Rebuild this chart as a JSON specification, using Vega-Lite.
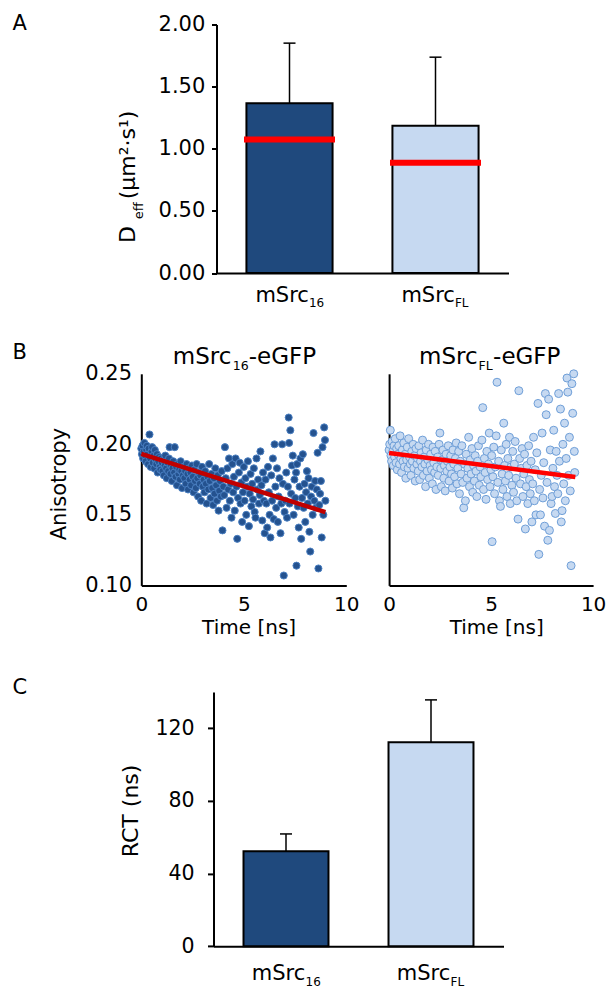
{
"$schema": "https://vega.github.io/schema/vega-lite/v6.json",
"background": "white",
"padding": {"left": 12.5, "top": 12.5, "right": 5, "bottom": 5},
"config": {
  "view": {"stroke": null},
  "font": "DejaVu Sans",
  "axis": {"labelFont": "DejaVu Sans", "titleFont": "DejaVu Sans", "labelColor": "black", "titleColor": "black", "domainColor": "black", "tickColor": "black", "domainWidth": 2, "tickWidth": 2, "grid": false, "titleFontWeight": "normal", "labelFlush": false, "labelOverlap": false},
  "text": {"font": "DejaVu Sans", "color": "black"},
  "title": {"font": "DejaVu Sans", "fontWeight": "normal", "color": "black"}
},
"datasets": {
  "bars_a": [
    {"construct": "mSrc16", "main": "mSrc", "sub": "16", "mean": 1.367, "upper": 1.85, "median": 1.074},
    {"construct": "mSrcFL", "main": "mSrc", "sub": "FL", "mean": 1.185, "upper": 1.737, "median": 0.887}
  ],
  "bars_c": [
    {"construct": "mSrc16", "main": "mSrc", "sub": "16", "mean": 52.3, "upper": 61.8},
    {"construct": "mSrcFL", "main": "mSrc", "sub": "FL", "mean": 112.3, "upper": 135.6}
  ],
  "title_left": [{"main": "mSrc", "sub": "16", "rest": "-eGFP"}],
  "title_right": [{"main": "mSrc", "sub": "FL", "rest": "-eGFP"}],
  "fit_left": [{"t": 0, "a": 0.1933}, {"t": 4.5, "a": 0.1725}, {"t": 8.98, "a": 0.152}],
  "fit_right": [{"t": 0, "a": 0.1938}, {"t": 4.5, "a": 0.1855}, {"t": 9.13, "a": 0.1768}],
  "left": [
{"t":0.00,"a":0.197},{"t":0.03,"a":0.193},{"t":0.06,"a":0.199},{"t":0.09,"a":0.190},{"t":0.12,"a":0.195},{"t":0.15,"a":0.201},{"t":0.18,"a":0.192},{"t":0.21,"a":0.188},{"t":0.24,"a":0.196},{"t":0.27,"a":0.199},{"t":0.30,"a":0.193},{"t":0.33,"a":0.186},{"t":0.36,"a":0.197},{"t":0.40,"a":0.207},{"t":0.43,"a":0.190},{"t":0.46,"a":0.184},{"t":0.50,"a":0.195},{"t":0.53,"a":0.198},{"t":0.56,"a":0.187},{"t":0.60,"a":0.192},{"t":0.63,"a":0.183},{"t":0.66,"a":0.196},{"t":0.70,"a":0.189},{"t":0.73,"a":0.186},{"t":0.76,"a":0.193},{"t":0.80,"a":0.180},{"t":0.83,"a":0.188},{"t":0.86,"a":0.191},{"t":0.90,"a":0.184},{"t":0.93,"a":0.182},{"t":0.96,"a":0.190},{"t":1.00,"a":0.187},
{"t":1.03,"a":0.181},{"t":1.07,"a":0.189},{"t":1.10,"a":0.178},{"t":1.14,"a":0.185},{"t":1.17,"a":0.192},{"t":1.21,"a":0.183},{"t":1.24,"a":0.176},{"t":1.28,"a":0.187},{"t":1.31,"a":0.181},{"t":1.35,"a":0.190},{"t":1.38,"a":0.198},{"t":1.42,"a":0.179},{"t":1.45,"a":0.185},{"t":1.49,"a":0.174},{"t":1.52,"a":0.183},{"t":1.56,"a":0.188},{"t":1.60,"a":0.180},{"t":1.63,"a":0.198},{"t":1.67,"a":0.177},{"t":1.70,"a":0.184},{"t":1.74,"a":0.171},{"t":1.77,"a":0.186},{"t":1.81,"a":0.179},{"t":1.85,"a":0.182},{"t":1.88,"a":0.175},{"t":1.92,"a":0.188},{"t":1.95,"a":0.181},{"t":1.99,"a":0.169},{"t":2.03,"a":0.178},{"t":2.06,"a":0.184},{"t":2.10,"a":0.176},{"t":2.14,"a":0.181},{"t":2.17,"a":0.172},{"t":2.21,"a":0.186},{"t":2.25,"a":0.179},{"t":2.28,"a":0.168},{"t":2.32,"a":0.183},{"t":2.36,"a":0.175},{"t":2.40,"a":0.180},{"t":2.43,"a":0.171},{"t":2.47,"a":0.185},
{"t":2.51,"a":0.177},{"t":2.55,"a":0.166},{"t":2.58,"a":0.182},{"t":2.62,"a":0.174},{"t":2.66,"a":0.169},{"t":2.70,"a":0.186},{"t":2.73,"a":0.176},{"t":2.77,"a":0.163},{"t":2.81,"a":0.180},{"t":2.85,"a":0.172},{"t":2.88,"a":0.178},{"t":2.92,"a":0.160},{"t":2.96,"a":0.184},{"t":3.00,"a":0.170},{"t":3.04,"a":0.175},{"t":3.08,"a":0.166},{"t":3.11,"a":0.181},{"t":3.15,"a":0.172},{"t":3.19,"a":0.158},{"t":3.23,"a":0.177},{"t":3.27,"a":0.168},{"t":3.31,"a":0.186},{"t":3.34,"a":0.174},{"t":3.38,"a":0.162},{"t":3.42,"a":0.179},{"t":3.46,"a":0.169},{"t":3.50,"a":0.157},{"t":3.54,"a":0.176},{"t":3.57,"a":0.165},{"t":3.61,"a":0.183},{"t":3.65,"a":0.171},{"t":3.69,"a":0.160},{"t":3.73,"a":0.178},{"t":3.77,"a":0.153},{"t":3.80,"a":0.167},{"t":3.84,"a":0.174},{"t":3.88,"a":0.163},{"t":3.92,"a":0.181},{"t":3.96,"a":0.139},{"t":4.00,"a":0.170},
{"t":4.04,"a":0.164},{"t":4.08,"a":0.198},{"t":4.12,"a":0.176},{"t":4.16,"a":0.155},{"t":4.20,"a":0.183},{"t":4.24,"a":0.168},{"t":4.28,"a":0.190},{"t":4.32,"a":0.160},{"t":4.36,"a":0.172},{"t":4.40,"a":0.148},{"t":4.44,"a":0.186},{"t":4.48,"a":0.166},{"t":4.52,"a":0.177},{"t":4.56,"a":0.153},{"t":4.60,"a":0.190},{"t":4.64,"a":0.170},{"t":4.68,"a":0.133},{"t":4.72,"a":0.162},{"t":4.76,"a":0.180},{"t":4.80,"a":0.187},{"t":4.84,"a":0.158},{"t":4.88,"a":0.173},{"t":4.92,"a":0.145},{"t":4.96,"a":0.166},{"t":5.00,"a":0.184},{"t":5.04,"a":0.160},{"t":5.08,"a":0.176},{"t":5.12,"a":0.150},{"t":5.16,"a":0.170},{"t":5.20,"a":0.188},{"t":5.25,"a":0.142},{"t":5.29,"a":0.165},{"t":5.33,"a":0.179},{"t":5.37,"a":0.156},{"t":5.41,"a":0.172},{"t":5.45,"a":0.161},{"t":5.49,"a":0.183},{"t":5.53,"a":0.152},{"t":5.57,"a":0.148},{"t":5.62,"a":0.190},{"t":5.66,"a":0.168},{"t":5.70,"a":0.175},{"t":5.74,"a":0.158},{"t":5.78,"a":0.164},{"t":5.81,"a":0.195},{"t":5.86,"a":0.171},{"t":5.90,"a":0.146},{"t":5.94,"a":0.180},{"t":5.98,"a":0.160},
{"t":6.02,"a":0.137},{"t":6.06,"a":0.175},{"t":6.10,"a":0.158},{"t":6.14,"a":0.141},{"t":6.18,"a":0.184},{"t":6.22,"a":0.166},{"t":6.26,"a":0.150},{"t":6.30,"a":0.134},{"t":6.34,"a":0.178},{"t":6.38,"a":0.160},{"t":6.42,"a":0.190},{"t":6.46,"a":0.147},{"t":6.50,"a":0.200},{"t":6.54,"a":0.170},{"t":6.58,"a":0.155},{"t":6.62,"a":0.183},{"t":6.66,"a":0.145},{"t":6.70,"a":0.163},{"t":6.74,"a":0.176},{"t":6.79,"a":0.137},{"t":6.83,"a":0.158},{"t":6.87,"a":0.200},{"t":6.91,"a":0.172},{"t":6.95,"a":0.107},{"t":6.99,"a":0.152},
{"t":7.03,"a":0.160},{"t":7.07,"a":0.180},{"t":7.11,"a":0.148},{"t":7.15,"a":0.170},{"t":7.19,"a":0.219},{"t":7.21,"a":0.201},{"t":7.23,"a":0.158},{"t":7.27,"a":0.210},{"t":7.31,"a":0.165},{"t":7.35,"a":0.185},{"t":7.39,"a":0.192},{"t":7.43,"a":0.150},{"t":7.47,"a":0.175},{"t":7.51,"a":0.162},{"t":7.55,"a":0.180},{"t":7.57,"a":0.114},{"t":7.60,"a":0.186},{"t":7.64,"a":0.156},{"t":7.68,"a":0.141},{"t":7.72,"a":0.170},{"t":7.76,"a":0.190},{"t":7.80,"a":0.133},{"t":7.84,"a":0.162},{"t":7.88,"a":0.193},{"t":7.92,"a":0.155},{"t":7.96,"a":0.172},{"t":8.00,"a":0.145},{"t":8.04,"a":0.166},{"t":8.08,"a":0.181},{"t":8.12,"a":0.158},{"t":8.16,"a":0.176},{"t":8.20,"a":0.138},{"t":8.24,"a":0.124},{"t":8.28,"a":0.163},{"t":8.32,"a":0.170},{"t":8.36,"a":0.150},{"t":8.40,"a":0.208},{"t":8.44,"a":0.160},{"t":8.48,"a":0.174},{"t":8.52,"a":0.155},{"t":8.56,"a":0.168},{"t":8.60,"a":0.194},{"t":8.64,"a":0.112},{"t":8.68,"a":0.157},{"t":8.72,"a":0.165},{"t":8.76,"a":0.174},{"t":8.80,"a":0.134},{"t":8.84,"a":0.198},{"t":8.88,"a":0.150},{"t":8.92,"a":0.212},{"t":8.96,"a":0.203},{"t":8.98,"a":0.160}
  ],
  "right": [
{"t":0.00,"a":0.196},{"t":0.03,"a":0.200},{"t":0.06,"a":0.210},{"t":0.09,"a":0.192},{"t":0.12,"a":0.188},{"t":0.15,"a":0.202},{"t":0.18,"a":0.195},{"t":0.21,"a":0.185},{"t":0.24,"a":0.199},{"t":0.27,"a":0.191},{"t":0.30,"a":0.204},{"t":0.34,"a":0.187},{"t":0.37,"a":0.197},{"t":0.40,"a":0.182},{"t":0.44,"a":0.193},{"t":0.47,"a":0.199},{"t":0.51,"a":0.186},{"t":0.54,"a":0.206},{"t":0.58,"a":0.190},{"t":0.61,"a":0.180},{"t":0.65,"a":0.196},{"t":0.68,"a":0.188},{"t":0.72,"a":0.201},{"t":0.75,"a":0.184},{"t":0.79,"a":0.193},{"t":0.82,"a":0.176},{"t":0.86,"a":0.189},{"t":0.89,"a":0.198},{"t":0.93,"a":0.183},{"t":0.96,"a":0.204},{"t":1.00,"a":0.191},
{"t":1.04,"a":0.186},{"t":1.07,"a":0.178},{"t":1.11,"a":0.195},{"t":1.14,"a":0.188},{"t":1.18,"a":0.200},{"t":1.21,"a":0.183},{"t":1.25,"a":0.192},{"t":1.28,"a":0.174},{"t":1.32,"a":0.197},{"t":1.36,"a":0.186},{"t":1.39,"a":0.190},{"t":1.43,"a":0.181},{"t":1.46,"a":0.199},{"t":1.50,"a":0.175},{"t":1.54,"a":0.188},{"t":1.57,"a":0.194},{"t":1.61,"a":0.184},{"t":1.64,"a":0.203},{"t":1.68,"a":0.178},{"t":1.72,"a":0.191},{"t":1.75,"a":0.186},{"t":1.79,"a":0.170},{"t":1.82,"a":0.196},{"t":1.86,"a":0.181},{"t":1.90,"a":0.189},{"t":1.93,"a":0.200},{"t":1.97,"a":0.176},{"t":2.01,"a":0.185},{"t":2.04,"a":0.193},{"t":2.08,"a":0.182},{"t":2.12,"a":0.172},{"t":2.15,"a":0.198},{"t":2.19,"a":0.187},{"t":2.23,"a":0.180},{"t":2.26,"a":0.195},{"t":2.30,"a":0.168},{"t":2.34,"a":0.184},{"t":2.38,"a":0.191},{"t":2.41,"a":0.178},{"t":2.45,"a":0.200},{"t":2.49,"a":0.208},
{"t":2.53,"a":0.183},{"t":2.56,"a":0.170},{"t":2.60,"a":0.189},{"t":2.64,"a":0.196},{"t":2.68,"a":0.176},{"t":2.71,"a":0.185},{"t":2.75,"a":0.167},{"t":2.79,"a":0.193},{"t":2.83,"a":0.181},{"t":2.86,"a":0.188},{"t":2.90,"a":0.199},{"t":2.94,"a":0.174},{"t":2.98,"a":0.184},{"t":3.02,"a":0.192},{"t":3.06,"a":0.179},{"t":3.10,"a":0.169},{"t":3.13,"a":0.196},{"t":3.17,"a":0.186},{"t":3.21,"a":0.177},{"t":3.25,"a":0.190},{"t":3.29,"a":0.201},{"t":3.33,"a":0.172},{"t":3.37,"a":0.183},{"t":3.41,"a":0.195},{"t":3.45,"a":0.165},{"t":3.49,"a":0.188},{"t":3.53,"a":0.179},{"t":3.57,"a":0.199},{"t":3.61,"a":0.173},{"t":3.66,"a":0.155},{"t":3.70,"a":0.186},{"t":3.74,"a":0.160},{"t":3.78,"a":0.193},{"t":3.82,"a":0.176},{"t":3.86,"a":0.183},{"t":3.90,"a":0.205},{"t":3.94,"a":0.170},{"t":3.98,"a":0.189},
{"t":4.02,"a":0.179},{"t":4.06,"a":0.197},{"t":4.10,"a":0.166},{"t":4.14,"a":0.185},{"t":4.18,"a":0.174},{"t":4.22,"a":0.192},{"t":4.26,"a":0.181},{"t":4.30,"a":0.163},{"t":4.34,"a":0.188},{"t":4.38,"a":0.199},{"t":4.42,"a":0.171},{"t":4.46,"a":0.184},{"t":4.50,"a":0.177},{"t":4.55,"a":0.203},{"t":4.59,"a":0.226},{"t":4.63,"a":0.168},{"t":4.67,"a":0.190},{"t":4.71,"a":0.180},{"t":4.75,"a":0.161},{"t":4.79,"a":0.195},{"t":4.83,"a":0.175},{"t":4.87,"a":0.186},{"t":4.91,"a":0.208},{"t":4.95,"a":0.170},{"t":4.99,"a":0.182},{"t":5.03,"a":0.192},{"t":5.05,"a":0.131},{"t":5.09,"a":0.177},{"t":5.13,"a":0.198},{"t":5.17,"a":0.165},{"t":5.21,"a":0.184},{"t":5.25,"a":0.206},{"t":5.29,"a":0.244},{"t":5.33,"a":0.173},{"t":5.37,"a":0.188},{"t":5.41,"a":0.160},{"t":5.46,"a":0.156},{"t":5.50,"a":0.196},{"t":5.54,"a":0.179},{"t":5.58,"a":0.168},{"t":5.62,"a":0.215},{"t":5.66,"a":0.185},{"t":5.70,"a":0.174},{"t":5.74,"a":0.200},{"t":5.78,"a":0.163},{"t":5.82,"a":0.190},{"t":5.86,"a":0.178},{"t":5.90,"a":0.205},{"t":5.94,"a":0.158},{"t":5.98,"a":0.184},
{"t":6.02,"a":0.171},{"t":6.06,"a":0.195},{"t":6.10,"a":0.166},{"t":6.14,"a":0.186},{"t":6.18,"a":0.202},{"t":6.22,"a":0.176},{"t":6.26,"a":0.160},{"t":6.32,"a":0.147},{"t":6.36,"a":0.238},{"t":6.40,"a":0.190},{"t":6.44,"a":0.172},{"t":6.48,"a":0.183},{"t":6.52,"a":0.197},{"t":6.56,"a":0.163},{"t":6.60,"a":0.179},{"t":6.64,"a":0.193},{"t":6.68,"a":0.140},{"t":6.72,"a":0.170},{"t":6.76,"a":0.185},{"t":6.80,"a":0.158},{"t":6.84,"a":0.199},{"t":6.88,"a":0.175},{"t":6.92,"a":0.165},{"t":6.96,"a":0.188},{"t":7.00,"a":0.145},
{"t":7.04,"a":0.172},{"t":7.08,"a":0.205},{"t":7.12,"a":0.160},{"t":7.16,"a":0.182},{"t":7.20,"a":0.150},{"t":7.24,"a":0.194},{"t":7.30,"a":0.229},{"t":7.34,"a":0.122},{"t":7.38,"a":0.168},{"t":7.42,"a":0.150},{"t":7.46,"a":0.178},{"t":7.50,"a":0.208},{"t":7.54,"a":0.162},{"t":7.58,"a":0.187},{"t":7.62,"a":0.142},{"t":7.66,"a":0.236},{"t":7.70,"a":0.221},{"t":7.74,"a":0.173},{"t":7.78,"a":0.132},{"t":7.82,"a":0.232},{"t":7.86,"a":0.139},{"t":7.90,"a":0.196},{"t":7.94,"a":0.158},{"t":7.99,"a":0.163},{"t":8.03,"a":0.183},{"t":8.07,"a":0.210},{"t":8.11,"a":0.170},{"t":8.15,"a":0.151},{"t":8.19,"a":0.195},{"t":8.23,"a":0.178},{"t":8.27,"a":0.165},{"t":8.31,"a":0.236},{"t":8.35,"a":0.188},{"t":8.40,"a":0.225},{"t":8.44,"a":0.145},{"t":8.48,"a":0.153},{"t":8.52,"a":0.200},{"t":8.56,"a":0.172},{"t":8.60,"a":0.215},{"t":8.64,"a":0.160},{"t":8.68,"a":0.190},{"t":8.72,"a":0.247},{"t":8.76,"a":0.237},{"t":8.80,"a":0.178},{"t":8.84,"a":0.205},{"t":8.88,"a":0.167},{"t":8.92,"a":0.114},{"t":8.96,"a":0.243},{"t":9.00,"a":0.222},{"t":9.05,"a":0.250},{"t":9.08,"a":0.195},{"t":9.10,"a":0.180}
  ]
},
"spacing": 38.4,
"vconcat": [
  {
    "spacing": 32.3,
    "vconcat": [
      {
        "spacing": 0,
        "hconcat": [
          {
            "width": 103.4, "height": 248.5,
            "title": {"text": "A", "anchor": "start", "frame": "group", "orient": "top", "offset": 0, "baseline": "alphabetic", "dy": 26, "fontSize": 21, "fontWeight": "normal"},
            "data": {"values": [{}]},
            "mark": {"type": "text"},
            "encoding": {"text": {"value": ""}}
          },
          {
            "width": 292, "height": 248.5,
            "data": {"name": "bars_a"},
            "resolve": {"axis": {"x": "independent", "y": "independent"}},
            "layer": [
              {
                "mark": {"type": "bar", "stroke": "black", "strokeWidth": 2},
                "encoding": {
                  "x": {"field": "construct", "type": "nominal", "sort": null,
                        "scale": {"domain": ["mSrc16", "mSrcFL"], "paddingInner": 0.41, "paddingOuter": 0.205},
                        "axis": {"orient": "bottom", "title": null, "ticks": false, "labels": false}},
                  "y": {"field": "mean", "type": "quantitative", "scale": {"domain": [0, 2], "nice": false},
                        "axis": {"orient": "left", "values": [0, 0.5, 1, 1.5, 2], "format": ".2f", "tickSize": 5, "labelPadding": 6.7, "labelFontSize": 21, "labelOverlap": false, "labelFlush": false,
                                 "title": "D", "titleFontSize": 22, "titleAngle": 270, "titleAlign": "left", "titleBaseline": "alphabetic", "titleX": -81.7, "titleY": 218}},
                  "fill": {"field": "construct", "type": "nominal", "scale": {"domain": ["mSrc16", "mSrcFL"], "range": ["#1f497d", "#c6d9f1"]}, "legend": null}
                }
              },
              {
                "mark": {"type": "rule", "color": "black", "strokeWidth": 1.5},
                "encoding": {
                  "x": {"field": "construct", "type": "nominal", "axis": null},
                  "y": {"field": "mean", "type": "quantitative",
                        "axis": {"orient": "left", "domain": false, "ticks": false, "labels": false, "title": "eff", "titleFontSize": 13, "titleAngle": 270, "titleAlign": "left", "titleBaseline": "alphabetic", "titleX": -74, "titleY": 194.3}},
                  "y2": {"field": "upper"}
                }
              },
              {
                "mark": {"type": "tick", "color": "black", "size": 12, "thickness": 1.5, "opacity": 1},
                "encoding": {
                  "x": {"field": "construct", "type": "nominal", "axis": null},
                  "y": {"field": "upper", "type": "quantitative",
                        "axis": {"orient": "left", "domain": false, "ticks": false, "labels": false, "title": "(µm²·s¹)", "titleFontSize": 22, "titleAngle": 270, "titleAlign": "left", "titleBaseline": "alphabetic", "titleX": -81.7, "titleY": 174.3}}
                }
              },
              {
                "mark": {"type": "tick", "color": "#ff0000", "size": 91, "thickness": 6, "opacity": 1},
                "encoding": {
                  "x": {"field": "construct", "type": "nominal", "axis": null},
                  "y": {"field": "median", "type": "quantitative", "axis": null}
                }
              },
              {
                "mark": {"type": "text", "align": "right", "baseline": "alphabetic", "dx": 19.4, "dy": 29.2, "fontSize": 21},
                "encoding": {
                  "x": {"field": "construct", "type": "nominal", "axis": null},
                  "y": {"datum": 0, "type": "quantitative", "axis": null},
                  "text": {"field": "main"}
                }
              },
              {
                "mark": {"type": "text", "align": "left", "baseline": "alphabetic", "dx": 19.4, "dy": 33.5, "fontSize": 12},
                "encoding": {
                  "x": {"field": "construct", "type": "nominal", "axis": null},
                  "y": {"datum": 0, "type": "quantitative", "axis": null},
                  "text": {"field": "sub"}
                }
              }
            ]
          }
        ]
      },
      {
        "spacing": 20.8,
        "hconcat": [
          {
            "width": 10, "height": 211.6,
            "title": {"text": "B", "anchor": "start", "frame": "group", "orient": "top", "offset": 0, "baseline": "alphabetic", "dy": 5.7, "fontSize": 21, "fontWeight": "normal"},
            "data": {"values": [{}]},
            "mark": {"type": "text"},
            "encoding": {"text": {"value": ""}}
          },
          {
            "width": 205, "height": 211.6,
            "resolve": {"axis": {"x": "independent", "y": "independent"}},
            "layer": [
              {
                "data": {"name": "left"},
                "mark": {"type": "circle", "size": 50, "fill": "#24528f", "stroke": "#4a7fc1", "strokeWidth": 1, "opacity": 1},
                "encoding": {
                  "x": {"field": "t", "type": "quantitative", "scale": {"domain": [0, 10], "nice": false, "zero": false},
                        "axis": {"orient": "bottom", "values": [0, 5, 10], "ticks": false, "labelPadding": 25, "labelBaseline": "alphabetic", "labelFontSize": 20, "labelOverlap": false, "labelFlush": false,
                                 "title": "Time [ns]", "titleFontSize": 20, "titleX": 107.3, "titleY": 48.4, "titleAlign": "center", "titleBaseline": "alphabetic"}},
                  "y": {"field": "a", "type": "quantitative", "scale": {"domain": [0.1, 0.25], "nice": false, "zero": false},
                        "axis": {"orient": "left", "values": [0.1, 0.15, 0.2, 0.25], "format": ".2f", "ticks": false, "labelPadding": 9.7, "labelFontSize": 21, "labelOverlap": false, "labelFlush": false,
                                 "title": "Anisotropy", "titleFontSize": 21, "titleAngle": 270, "titleAlign": "center", "titleBaseline": "alphabetic", "titleX": -75.7, "titleY": 109.8}}
                }
              },
              {
                "data": {"name": "fit_left"},
                "mark": {"type": "line", "color": "#c00000", "strokeWidth": 4.5},
                "encoding": {
                  "x": {"field": "t", "type": "quantitative", "axis": null},
                  "y": {"field": "a", "type": "quantitative", "axis": null}
                }
              },
              {
                "data": {"name": "title_left"},
                "mark": {"type": "text", "align": "left", "baseline": "alphabetic", "fontSize": 23, "dx": -71, "dy": -10},
                "encoding": {"x": {"datum": 5, "type": "quantitative", "axis": null}, "y": {"datum": 0.25, "type": "quantitative", "axis": null}, "text": {"field": "main"}}
              },
              {
                "data": {"name": "title_left"},
                "mark": {"type": "text", "align": "left", "baseline": "alphabetic", "fontSize": 12.5, "dx": -11, "dy": -3.4},
                "encoding": {"x": {"datum": 5, "type": "quantitative", "axis": null}, "y": {"datum": 0.25, "type": "quantitative", "axis": null}, "text": {"field": "sub"}}
              },
              {
                "data": {"name": "title_left"},
                "mark": {"type": "text", "align": "left", "baseline": "alphabetic", "fontSize": 23, "dx": 5, "dy": -10},
                "encoding": {"x": {"datum": 5, "type": "quantitative", "axis": null}, "y": {"datum": 0.25, "type": "quantitative", "axis": null}, "text": {"field": "rest"}}
              }
            ]
          },
          {
            "width": 204, "height": 211.6,
            "resolve": {"axis": {"x": "independent", "y": "independent"}},
            "layer": [
              {
                "data": {"name": "right"},
                "mark": {"type": "circle", "size": 64, "fill": "#c6d9f1", "stroke": "#6f9fd8", "strokeWidth": 1, "opacity": 1},
                "encoding": {
                  "x": {"field": "t", "type": "quantitative", "scale": {"domain": [0, 10], "nice": false, "zero": false},
                        "axis": {"orient": "bottom", "values": [0, 5, 10], "ticks": false, "labelPadding": 25, "labelBaseline": "alphabetic", "labelFontSize": 20, "labelOverlap": false, "labelFlush": false,
                                 "title": "Time [ns]", "titleFontSize": 20, "titleX": 107.1, "titleY": 48.4, "titleAlign": "center", "titleBaseline": "alphabetic"}},
                  "y": {"field": "a", "type": "quantitative", "scale": {"domain": [0.1, 0.25], "nice": false, "zero": false},
                        "axis": {"orient": "left", "values": [0.1, 0.15, 0.2, 0.25], "ticks": false, "labels": false, "title": null}}
                }
              },
              {
                "data": {"name": "fit_right"},
                "mark": {"type": "line", "color": "#ff0000", "strokeWidth": 4.5},
                "encoding": {
                  "x": {"field": "t", "type": "quantitative", "axis": null},
                  "y": {"field": "a", "type": "quantitative", "axis": null}
                }
              },
              {
                "data": {"name": "title_right"},
                "mark": {"type": "text", "align": "left", "baseline": "alphabetic", "fontSize": 23, "dx": -72, "dy": -10},
                "encoding": {"x": {"datum": 5, "type": "quantitative", "axis": null}, "y": {"datum": 0.25, "type": "quantitative", "axis": null}, "text": {"field": "main"}}
              },
              {
                "data": {"name": "title_right"},
                "mark": {"type": "text", "align": "left", "baseline": "alphabetic", "fontSize": 12.5, "dx": -12.5, "dy": -3.4},
                "encoding": {"x": {"datum": 5, "type": "quantitative", "axis": null}, "y": {"datum": 0.25, "type": "quantitative", "axis": null}, "text": {"field": "sub"}}
              },
              {
                "data": {"name": "title_right"},
                "mark": {"type": "text", "align": "left", "baseline": "alphabetic", "fontSize": 23, "dx": 2, "dy": -10},
                "encoding": {"x": {"datum": 5, "type": "quantitative", "axis": null}, "y": {"datum": 0.25, "type": "quantitative", "axis": null}, "text": {"field": "rest"}}
              }
            ]
          }
        ]
      }
    ]
  },
  {
    "spacing": 0,
    "hconcat": [
      {
        "width": 106.8, "height": 254.3,
        "title": {"text": "C", "anchor": "start", "frame": "group", "orient": "top", "offset": 0, "baseline": "alphabetic", "dy": 23.3, "fontSize": 21, "fontWeight": "normal"},
        "data": {"values": [{}]},
        "mark": {"type": "text"},
        "encoding": {"text": {"value": ""}}
      },
      {
        "width": 290, "height": 254.3,
        "data": {"name": "bars_c"},
        "layer": [
          {
            "mark": {"type": "bar", "stroke": "black", "strokeWidth": 2},
            "encoding": {
              "x": {"field": "construct", "type": "nominal", "sort": null,
                    "scale": {"domain": ["mSrc16", "mSrcFL"], "paddingInner": 0.414, "paddingOuter": 0.207},
                    "axis": {"orient": "bottom", "title": null, "ticks": false, "labels": false}},
              "y": {"field": "mean", "type": "quantitative", "scale": {"domain": [0, 140], "nice": false},
                    "axis": {"orient": "left", "values": [0, 20, 40, 60, 80, 100, 120, 140], "format": "d", "tickSize": 6, "labelPadding": 13.4, "labelFontSize": 20.5, "labelOverlap": false, "labelFlush": false,
                             "title": "RCT (ns)", "titleFontSize": 22, "titleAngle": 270, "titleAlign": "center", "titleBaseline": "alphabetic", "titleX": -76, "titleY": 118.5}},
              "fill": {"field": "construct", "type": "nominal", "scale": {"domain": ["mSrc16", "mSrcFL"], "range": ["#1f497d", "#c6d9f1"]}, "legend": null}
            }
          },
          {
            "mark": {"type": "rule", "color": "black", "strokeWidth": 1.5},
            "encoding": {
              "x": {"field": "construct", "type": "nominal"},
              "y": {"field": "mean", "type": "quantitative"},
              "y2": {"field": "upper"}
            }
          },
          {
            "mark": {"type": "tick", "color": "black", "size": 12, "thickness": 1.5, "opacity": 1},
            "encoding": {
              "x": {"field": "construct", "type": "nominal"},
              "y": {"field": "upper", "type": "quantitative"}
            }
          },
          {
            "mark": {"type": "text", "align": "right", "baseline": "alphabetic", "dx": 19.2, "dy": 33.3, "fontSize": 21},
            "encoding": {
              "x": {"field": "construct", "type": "nominal"},
              "y": {"datum": 0, "type": "quantitative"},
              "text": {"field": "main"}
            }
          },
          {
            "mark": {"type": "text", "align": "left", "baseline": "alphabetic", "dx": 19.5, "dy": 40, "fontSize": 12},
            "encoding": {
              "x": {"field": "construct", "type": "nominal"},
              "y": {"datum": 0, "type": "quantitative"},
              "text": {"field": "sub"}
            }
          }
        ]
      }
    ]
  }
]
}
